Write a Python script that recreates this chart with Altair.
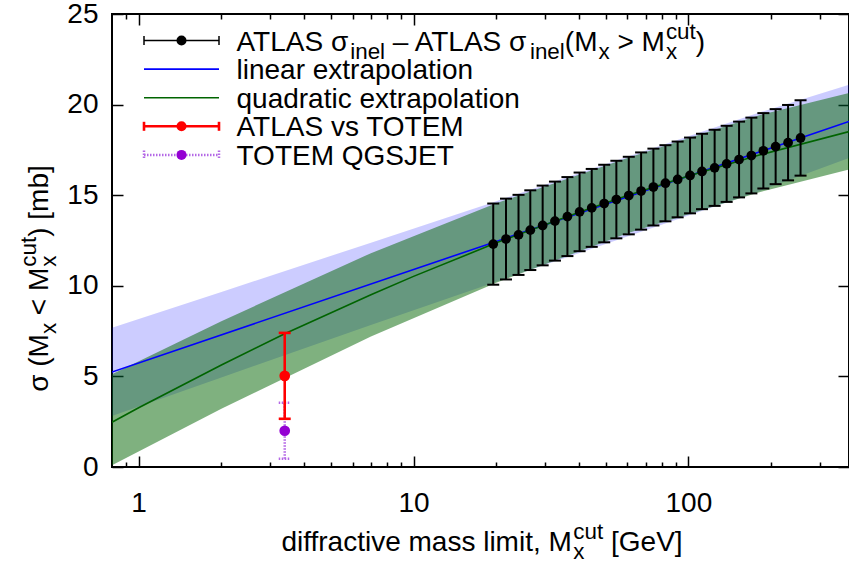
import altair as alt
import pandas as pd

FONT = "Liberation Sans"

# ---------------- data ----------------
atlas_mx = [19.5, 21.7, 24.1, 26.6, 29.5, 32.7, 36.3, 40.2, 44.5, 49.4, 54.7, 60.7, 67.3,
            74.6, 82.5, 91.4, 101.4, 112.1, 124.6, 137.8, 152.9, 169.5, 187.4, 207.7, 230.5, 255.9]
atlas_sigma = [12.30, 12.58, 12.81, 13.07, 13.33, 13.57, 13.82, 14.08, 14.30, 14.54, 14.76, 14.98, 15.23,
               15.45, 15.66, 15.87, 16.09, 16.31, 16.51, 16.73, 16.97, 17.19, 17.45, 17.68, 17.90, 18.16]
atlas_err = [2.24, 2.23, 2.21, 2.20, 2.20, 2.18, 2.18, 2.17, 2.15, 2.14, 2.14, 2.14, 2.13,
             2.12, 2.10, 2.09, 2.09, 2.08, 2.10, 2.10, 2.09, 2.09, 2.08, 2.07, 2.08, 2.08]

tvt_mx = [3.40]
tvt_sigma = [5.03]
tvt_err = [2.37]

qgs_mx = [3.40]
qgs_sigma = [2.00]
qgs_err = [1.55]

lin_mx = [0.8, 20.0, 384.0]
lin_sigma = [5.24, 12.45, 19.07]

quad_mx = [0.8, 1.0, 2.0, 3.4, 7.0, 10.0, 20.0, 40.0, 60.0, 100.0, 180.0, 384.0]
quad_sigma = [2.47, 3.27, 5.63, 7.35, 9.51, 10.52, 12.37, 14.06, 14.98, 16.06, 17.20, 18.51]

band_mx = [0.8, 2.0, 7.0, 20.0, 60.0, 180.0, 384.0]
lin_band_lo = [2.82, 4.94, 7.84, 10.23, 12.72, 15.21, 17.05]
lin_band_hi = [7.68, 9.66, 12.38, 14.67, 17.12, 19.55, 21.10]
quad_band_lo = [0.10, 3.21, 7.20, 10.17, 12.90, 15.15, 16.42]
quad_band_hi = [5.12, 8.05, 11.80, 14.55, 17.05, 19.40, 20.64]

x_ticks_major = [1, 10, 100]
x_ticks_minor = [0.9, 2, 3, 4, 5, 6, 7, 8, 9, 20, 30, 40, 50, 60, 70, 80, 90, 200, 300]
y_ticks = [0, 5, 10, 15, 20, 25]

legend_labels = ["linear extrapolation", "quadratic extrapolation", "ATLAS vs TOTEM", "TOTEM QGSJET"]

# ---------------- tables ----------------
atlas = pd.DataFrame({"mx": atlas_mx, "s": atlas_sigma, "e": atlas_err})
atlas["lo"] = atlas["s"] - atlas["e"]
atlas["hi"] = atlas["s"] + atlas["e"]
tvt = pd.DataFrame({"mx": tvt_mx, "s": tvt_sigma, "e": tvt_err})
tvt["lo"] = tvt["s"] - tvt["e"]
tvt["hi"] = tvt["s"] + tvt["e"]
qgs = pd.DataFrame({"mx": qgs_mx, "s": qgs_sigma, "e": qgs_err})
qgs["lo"] = qgs["s"] - qgs["e"]
qgs["hi"] = qgs["s"] + qgs["e"]
lin = pd.DataFrame({"mx": lin_mx, "s": lin_sigma})
quad = pd.DataFrame({"mx": quad_mx, "s": quad_sigma})
lband = pd.DataFrame({"mx": band_mx, "lo": lin_band_lo, "hi": lin_band_hi})
qband = pd.DataFrame({"mx": band_mx, "lo": quad_band_lo, "hi": quad_band_hi})
one = pd.DataFrame({"k": [0]})

# ---------------- layout ----------------
ML, MT, W, H = 112, 14, 737, 453
TICK_FS = 28
TITLE_FS = 28
LEG_FS = 28

xs = alt.Scale(type="log", domain=[0.8, 384], nice=False)
ys = alt.Scale(domain=[0, 25], nice=False, zero=False)

BLUE = "#0000ff"
GREEN = "#006400"
RED = "#ff0000"
PURPLE = "#9400d3"
PURPLE_BAR = "#b468e6"


def X(field="mx", axis=None):
    return alt.X(f"{field}:Q", scale=xs, axis=axis)


def Y(field, axis=None):
    return alt.Y(f"{field}:Q", scale=ys, axis=axis)


layers = []
# bands
layers.append(alt.Chart(lband).mark_area(color=BLUE, opacity=0.2, clip=True).encode(
    x=X(), y=Y("lo"), y2="hi:Q"))
layers.append(alt.Chart(qband).mark_area(color=GREEN, opacity=0.5, clip=True).encode(
    x=X(), y=Y("lo"), y2="hi:Q"))
# lines
layers.append(alt.Chart(lin).mark_line(color=BLUE, strokeWidth=1.6, clip=True).encode(x=X(), y=Y("s")))
layers.append(alt.Chart(quad).mark_line(color=GREEN, strokeWidth=1.6, clip=True).encode(x=X(), y=Y("s")))


def errbars(df, color, width, dash=None):
    kw = {"color": color, "strokeWidth": width}
    if dash:
        kw["strokeDash"] = dash
    return [
        alt.Chart(df).mark_rule(**kw).encode(x=X(), y=Y("lo"), y2="hi:Q"),
        alt.Chart(df).mark_rule(xOffset=-6, x2Offset=6, **kw).encode(x=X(), x2="mx:Q", y=Y("lo")),
        alt.Chart(df).mark_rule(xOffset=-6, x2Offset=6, **kw).encode(x=X(), x2="mx:Q", y=Y("hi")),
    ]


layers += errbars(qgs, PURPLE_BAR, 2.5, dash=[1.5, 1.5])
layers += errbars(tvt, RED, 2.6)
layers += errbars(atlas, "black", 2)
layers.append(alt.Chart(atlas).mark_circle(color="black", opacity=1, size=95).encode(x=X(), y=Y("s")))
layers.append(alt.Chart(tvt).mark_circle(color=RED, opacity=1, size=115).encode(x=X(), y=Y("s")))
layers.append(alt.Chart(qgs).mark_circle(color=PURPLE, opacity=1, size=115).encode(x=X(), y=Y("s")))

# ---------------- axes (inward ticks on all four sides) ----------------
common = dict(domain=False, grid=False, tickColor="black", tickWidth=1.5, title=None,
              labelFont=FONT, labelColor="black", labelOverlap=False, labelFlush=False, labelBound=False)
ax_bottom = alt.Axis(orient="bottom", values=x_ticks_major, offset=-11, tickSize=11, format="d",
                     labelFontSize=TICK_FS, labelPadding=22, **common)
ax_bottom_minor = alt.Axis(orient="bottom", values=x_ticks_minor, offset=-5, tickSize=5, labels=False, **common)
ax_top = alt.Axis(orient="top", values=x_ticks_major, offset=-11, tickSize=11, labels=False, **common)
ax_top_minor = alt.Axis(orient="top", values=x_ticks_minor, offset=-5, tickSize=5, labels=False, **common)
ax_left = alt.Axis(orient="left", values=y_ticks, offset=-11, tickSize=11, format="d",
                   labelFontSize=TICK_FS, labelPadding=14, **common)
ax_right = alt.Axis(orient="right", values=y_ticks, offset=-11, tickSize=11, labels=False, **common)

for xa, ya in [(ax_bottom, ax_left), (ax_bottom_minor, ax_right), (ax_top, None), (ax_top_minor, None)]:
    layers.append(alt.Chart(atlas).mark_point(opacity=0).encode(x=X(axis=xa), y=Y("s", axis=ya)))

# ---------------- rich text helpers (sub/superscripts) ----------------
AW = {' ': 278, '(': 333, ')': 333, '[': 278, ']': 278, ',': 278, '–': 556, '>': 584, '<': 584,
      'A': 667, 'E': 667, 'G': 778, 'J': 500, 'L': 556, 'M': 833, 'O': 778, 'Q': 778, 'S': 667,
      'T': 611, 'V': 667, 'a': 556, 'b': 556, 'c': 500, 'd': 556, 'e': 556, 'f': 278, 'i': 222,
      'l': 222, 'm': 833, 'n': 556, 'o': 556, 'p': 556, 'q': 556, 'r': 333, 's': 500, 't': 278,
      'u': 556, 'v': 500, 'x': 500, 'σ': 580}


def tw(s, fs):
    return sum(AW.get(c, 556) for c in s) * fs / 1000.0


def rich(segs, fs, scale=0.8):
    out, pos = [], 0.0
    for seg in segs:
        kind = seg[0]
        if kind == "n":
            out.append((seg[1], pos, 0.0, fs))
            pos += tw(seg[1], fs)
        elif kind == "sub":
            f2 = fs * scale
            out.append((seg[1], pos + 1, 0.30 * fs, f2))
            pos += tw(seg[1], f2) + 1
        elif kind == "stack":
            f2 = fs * scale
            out.append((seg[1], pos + 1, 0.30 * fs, f2))
            out.append((seg[2], pos + 1, -0.42 * fs, f2))
            pos += max(tw(seg[1], f2), tw(seg[2], f2)) + 1
    return out, pos


def text_layers(pieces, x0, y0, vertical=False, color="black"):
    res = []
    for t, along, perp, fs in pieces:
        lead = len(t) - len(t.lstrip(" "))
        along += lead * AW[' '] * fs / 1000.0
        t = t.strip(" ")
        if vertical:
            px, py, ang = x0 + perp, y0 - along, 270
        else:
            px, py, ang = x0 + along, y0 + perp, 0
        res.append(alt.Chart(one).mark_text(text=t, font=FONT, fontSize=fs, align="left",
                                            baseline="alphabetic", angle=ang, color=color).encode(
            x=alt.value(px - ML), y=alt.value(py - MT)))
    return res


# axis titles
xt, xt_w = rich([("n", "diffractive mass limit, M"), ("stack", "x", "cut"), ("n", " [GeV]")], TITLE_FS)
layers += text_layers(xt, 482 - xt_w / 2, 551)
yt, yt_w = rich([("n", "σ (M"), ("sub", "x"), ("n", " < M"), ("stack", "x", "cut"), ("n", ") [mb]")], TITLE_FS)
layers += text_layers(yt, 47.5, 278.5 + yt_w / 2, vertical=True)

# ---------------- legend ----------------
ROW_Y = [40.5, 69.1, 97.7, 126.3, 154.9]
SX0, SX1, SXC, TX = 144, 219, 181.5, 236.5
BASE = 0.36 * LEG_FS


def lg_rule(x0, x1, y0, y1, color, width, dash=None):
    kw = {"color": color, "strokeWidth": width}
    if dash:
        kw["strokeDash"] = dash
    return alt.Chart(one).mark_rule(**kw).encode(
        x=alt.value(x0 - ML), x2=alt.value(x1 - ML), y=alt.value(y0 - MT), y2=alt.value(y1 - MT))


def lg_errsample(y, color, width, dotc, dash=None):
    return [lg_rule(SX0, SX1, y, y, color, width, dash),
            lg_rule(SX0, SX0, y - 4.5, y + 4.5, color, width, dash),
            lg_rule(SX1, SX1, y - 4.5, y + 4.5, color, width, dash),
            alt.Chart(one).mark_circle(color=dotc, opacity=1, size=100).encode(
                x=alt.value(SXC - ML), y=alt.value(y - MT))]


layers += lg_errsample(ROW_Y[0], "black", 1.5, "black")
layers.append(lg_rule(SX0, SX1, ROW_Y[1], ROW_Y[1], BLUE, 1.6))
layers.append(lg_rule(SX0, SX1, ROW_Y[2], ROW_Y[2], GREEN, 1.6))
layers += lg_errsample(ROW_Y[3], RED, 2.6, RED)
layers += lg_errsample(ROW_Y[4], PURPLE_BAR, 2.5, PURPLE, dash=[1.5, 1.5])

l0, _ = rich([("n", "ATLAS σ"), ("sub", "inel"), ("n", " – ATLAS σ"), ("sub", "inel"), ("n", "(M"),
              ("sub", "x"), ("n", " > M"), ("stack", "x", "cut"), ("n", ")")], LEG_FS)
layers += text_layers(l0, TX, ROW_Y[0] + BASE)
for i, lab in enumerate(legend_labels):
    p, _ = rich([("n", lab)], LEG_FS)
    layers += text_layers(p, TX, ROW_Y[i + 1] + BASE)

chart = alt.layer(*layers).resolve_axis(x="independent", y="independent").properties(
    width=W, height=H,
    autosize=alt.AutoSizeParams(type="none"),
    padding={"left": ML, "top": MT, "right": 0, "bottom": 563 - MT - H},
    background="white",
).configure_view(stroke="black", strokeWidth=2)

chart.save("out.html", embed_options={"renderer": "svg", "actions": False})
